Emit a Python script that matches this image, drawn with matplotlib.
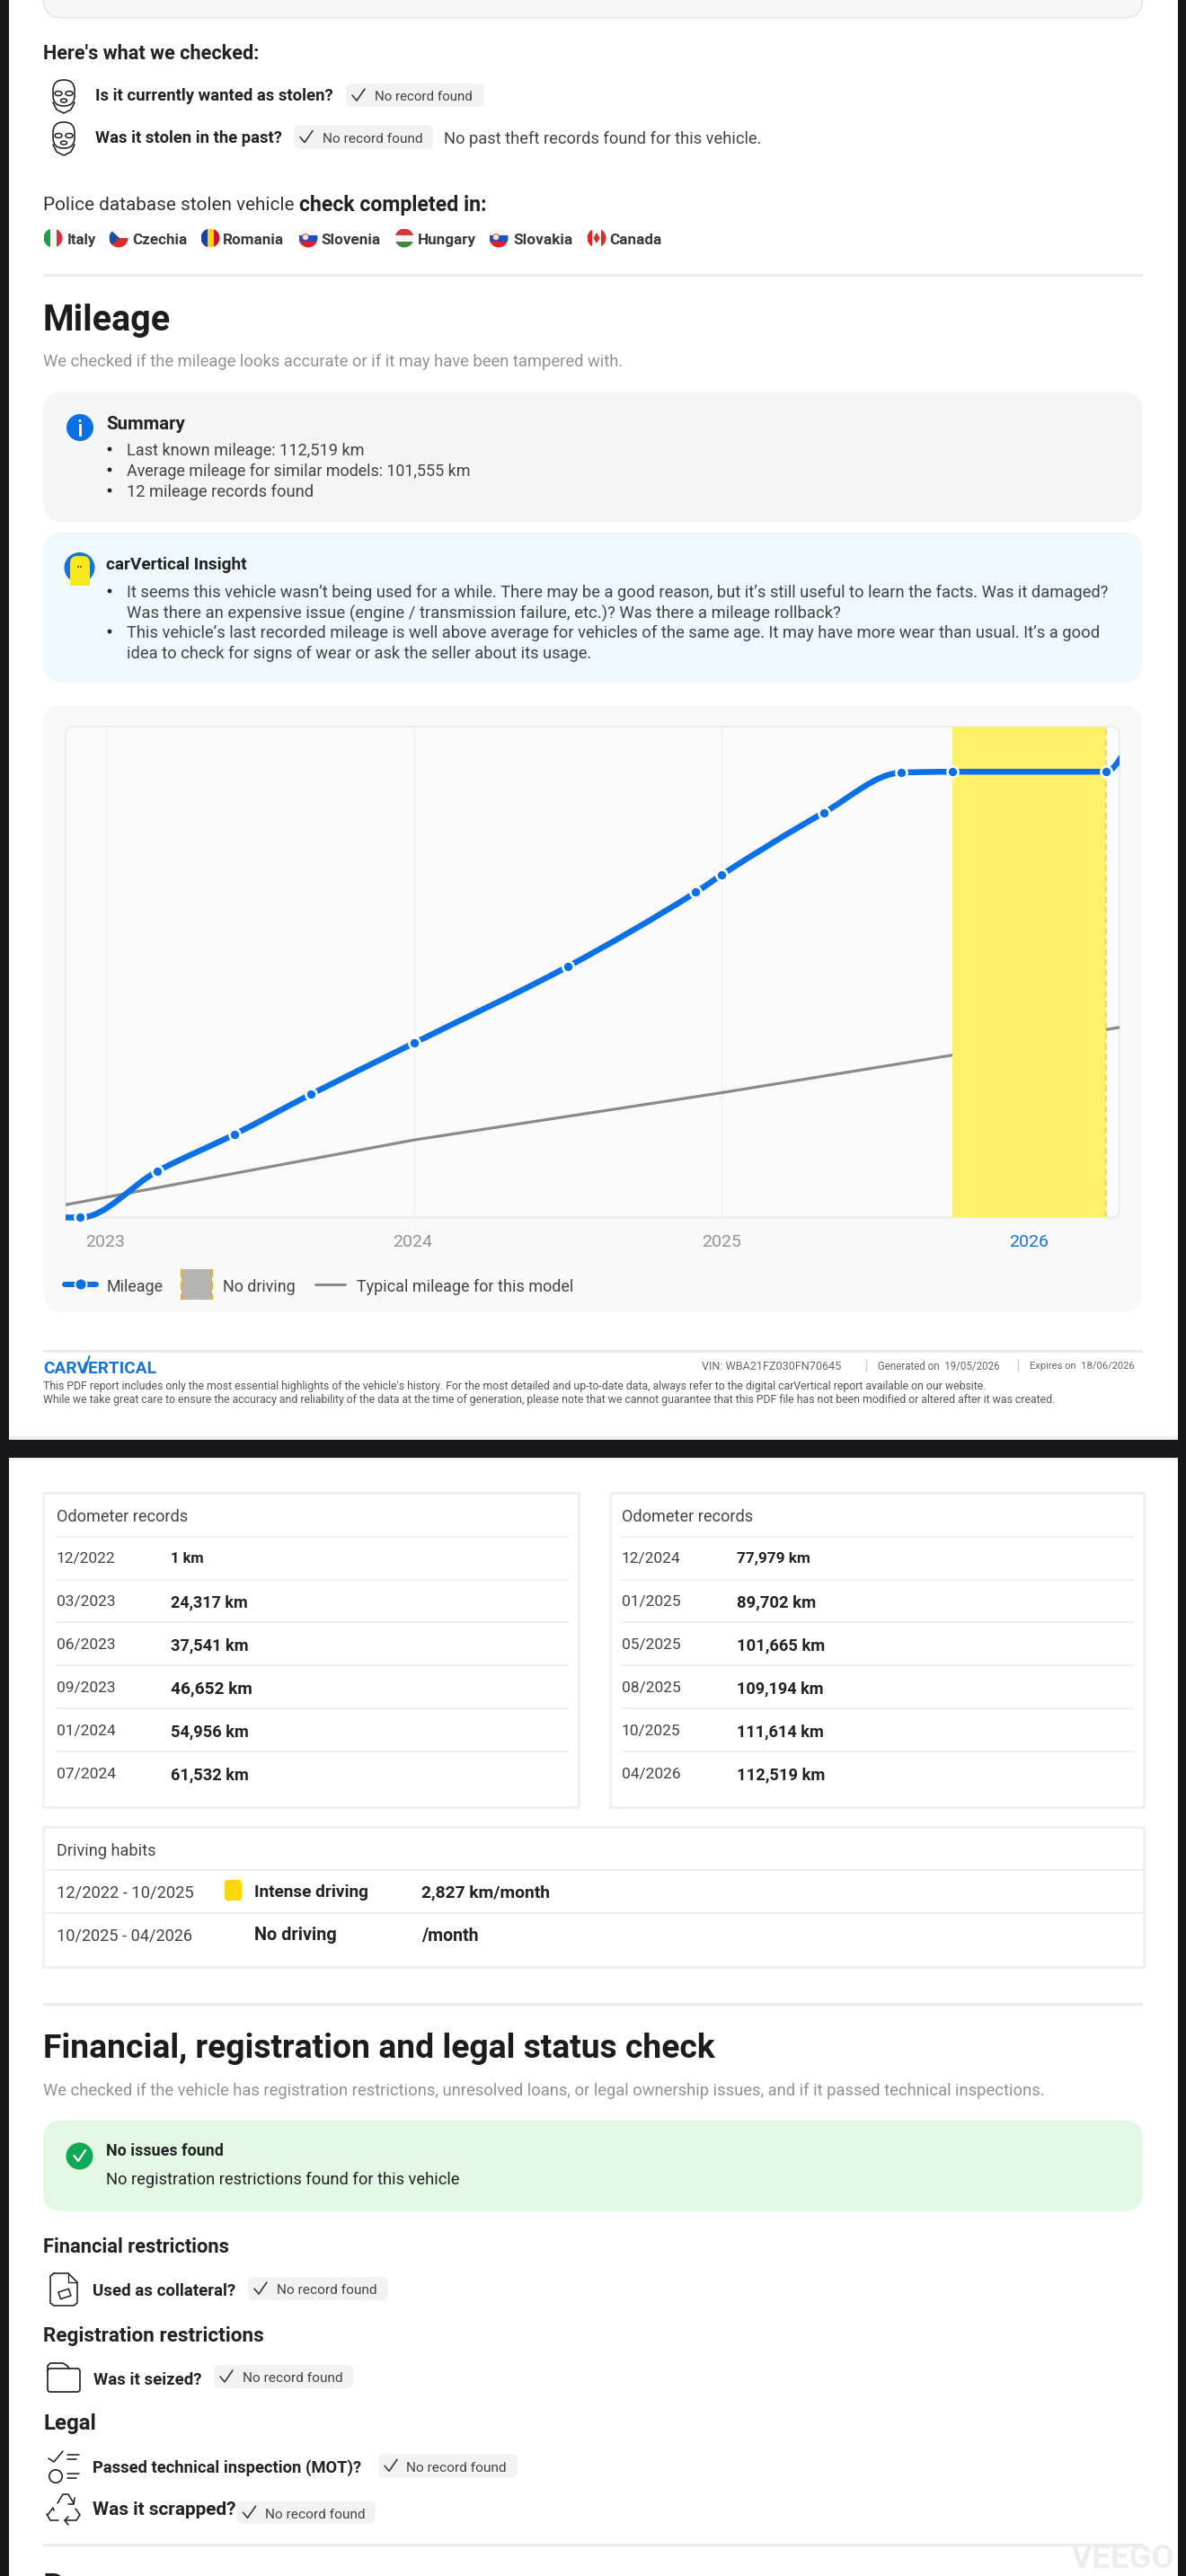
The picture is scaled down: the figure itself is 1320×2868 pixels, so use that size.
import matplotlib
matplotlib.use("Agg")
import matplotlib.pyplot as plt
from matplotlib.patches import Circle, Ellipse, FancyBboxPatch, PathPatch, Polygon, Rectangle
from matplotlib.path import Path

plt.rcParams["font.family"] = ["Roboto", "Liberation Sans", "DejaVu Sans"]

record_dates = ["2022-12", "2023-03", "2023-06", "2023-09", "2024-01", "2024-07",
                "2024-12", "2025-01", "2025-05", "2025-08", "2025-10", "2026-04"]
record_km = [1, 11690, 20950, 31140, 43990, 63320, 82080, 86470, 102220, 112290, 112519, 112519]
lead_in = ("2022-11", 0)
tail_out = ("2026-05", 120000)

typical_dates = ["2022-11", "2024-01", "2025-01", "2025-10", "2026-05"]
typical_km = [2700, 19560, 31490, 40980, 48500]

no_driving = ("2025-10", "2026-04")
year_ticks = [2023, 2024, 2025, 2026]

odometer_left = [("12/2022", "1 km"), ("03/2023", "24,317 km"), ("06/2023", "37,541 km"),
                 ("09/2023", "46,652 km"), ("01/2024", "54,956 km"), ("07/2024", "61,532 km")]
odometer_right = [("12/2024", "77,979 km"), ("01/2025", "89,702 km"), ("05/2025", "101,665 km"),
                  ("08/2025", "109,194 km"), ("10/2025", "111,614 km"), ("04/2026", "112,519 km")]

DARK = "#222222"
TEXT = "#444444"
GREY = "#929292"
BLUE = "#0a70e6"

fig = plt.figure(figsize=(13.2, 28.68), dpi=100, facecolor="white")
page = fig.add_axes([0, 0, 1, 1])
page.set_xlim(0, 1320)
page.set_ylim(2868, 0)
page.axis("off")
renderer = fig.canvas.get_renderer()


def label(x, y, s, right=None, size=18, color=TEXT, weight="normal", ha="left", z=6):
    t = page.text(x, y, s, fontsize=size * 0.72, color=color, fontweight=weight,
                  ha=ha, va="center_baseline", zorder=z)
    if right is not None:
        w = t.get_window_extent(renderer).width
        t.set_fontsize(size * 0.72 * (right - x) / w)
    return t


def box(x0, y0, x1, y1, r=0, fc="none", ec="none", lw=0, z=1):
    style = f"round,pad=0,rounding_size={r}" if r else "square,pad=0"
    p = FancyBboxPatch((x0, y0), x1 - x0, y1 - y0, boxstyle=style, fc=fc, ec=ec,
                       lw=lw * 0.72, zorder=z)
    page.add_patch(p)
    return p


def stroke(xs, ys, color=DARK, lw=1.5, z=6):
    page.plot(xs, ys, color=color, lw=lw * 0.72, zorder=z, solid_capstyle="round",
              solid_joinstyle="round")


def sep(y):
    page.add_patch(Rectangle((48, y - 1.5), 1224, 3, fc="#e9e9e9", ec="none", zorder=2))


def pill(x0, x1, y0, y1, text_x, text_right, text_y=None):
    box(x0, y0, x1, y1, r=7, fc="#f2f2f2")
    mid = (y0 + y1) / 2
    ty = text_y if text_y else mid + 1
    cx = x0 + 13
    stroke([cx - 6, cx - 1, cx + 8], [mid, mid + 6, mid - 7], color="#333333", lw=1.6)
    label(text_x, ty, "No record found", right=text_right, size=15)


def mask(cx, cy):
    box(cx - 12, cy - 18, cx + 12, cy + 11, r=11.5, ec=DARK, lw=1.6, z=5)
    for dx in (-6, 6):
        page.add_patch(Ellipse((cx + dx, cy - 3), 8, 5, fc="none", ec=DARK, lw=1.1, zorder=6))
    page.add_patch(Ellipse((cx, cy + 5), 7, 4, fc="none", ec=DARK, lw=1.1, zorder=6))
    stroke([cx - 12, cx - 8, cx, cx + 8, cx + 12], [cy + 7, cy + 15, cy + 19, cy + 15, cy + 7], lw=1.6)


def flag(cx, cy, colors, vertical=True, r=10.5):
    clip = Circle((cx, cy), r, transform=page.transData)
    n = len(colors)
    for i, c in enumerate(colors):
        if vertical:
            rect = Rectangle((cx - r + 2 * r * i / n, cy - r), 2 * r / n, 2 * r, fc=c, ec="none", zorder=5)
        else:
            rect = Rectangle((cx - r, cy - r + 2 * r * i / n), 2 * r, 2 * r / n, fc=c, ec="none", zorder=5)
        page.add_patch(rect)
        rect.set_clip_path(clip)
    return clip


# dark frame around the two captured pages
page.add_patch(Rectangle((0, 0), 9.5, 2868, fc="#18181a", ec="none", zorder=9))
page.add_patch(Rectangle((1310.5, 0), 10, 2868, fc="#18181a", ec="none", zorder=9))
page.add_patch(Rectangle((0, 1603), 1320, 20, fc="#18181a", ec="none", zorder=9))
page.add_patch(Rectangle((0, 1599), 1320, 4, fc="#f0f0f0", ec="none", zorder=2))
page.add_patch(Rectangle((0, 1623), 1320, 3, fc="#f0f0f0", ec="none", zorder=2))

# --- top of page one ---
box(48, -40, 1272, 20, r=22, fc="#f6f6f6", ec="#e6e6e6", lw=1.5)
label(48, 58, "Here's what we checked:", right=289, color=DARK, weight="bold")
mask(71, 107)
mask(71, 154)
label(106, 105, "Is it currently wanted as stolen?", right=371, color=DARK, weight="bold")
pill(385, 539, 93, 119, 417, 527)
label(106, 152, "Was it stolen in the past?", right=314, color=DARK, weight="bold")
pill(327, 482, 139, 166, 359, 470)
label(494, 153, "No past theft records found for this vehicle.", right=848)
label(48, 226, "Police database stolen vehicle", right=328, color="#333333")
label(333, 226, "check completed in:", right=542, color=DARK, weight="bold")

flag_row = [("Italy", 59, 75, 107, ["#1f9d4d", "#f4f4f4", "#d9303e"], True),
            ("Czechia", 132, 147, 208, ["#f4f4f4", "#dd2b2b"], False),
            ("Romania", 234, 248, 316, ["#1b3f9c", "#fcd116", "#ce1126"], True),
            ("Slovenia", 343, 357, 423, ["#f4f4f4", "#1c4fc4", "#e0202c"], False),
            ("Hungary", 450, 465, 530, ["#d5383c", "#f6f6f6", "#3f8a3c"], False),
            ("Slovakia", 555, 571, 637, ["#f4f4f4", "#1c4fc4", "#e0202c"], False),
            ("Canada", 664, 678, 736, ["#dc2a2a", "#f8f8f8", "#f8f8f8", "#dc2a2a"], True)]
for name, fx, tx, tr, cols, vert in flag_row:
    clip = flag(fx, 265, cols, vert)
    label(tx, 266, name, right=tr, color="#3a3a3a", weight="bold")
    if name == "Czechia":
        tri = Polygon([(fx - 10.5, 254.5), (fx + 1, 265), (fx - 10.5, 275.5)], fc="#1d4d9c", ec="none", zorder=5.5)
        page.add_patch(tri)
        tri.set_clip_path(clip)
    if name in ("Slovenia", "Slovakia"):
        page.add_patch(Circle((fx - 3, 264), 3.5, fc="#e8e8f8", ec="#d03030", lw=0.6, zorder=5.5))
    if name == "Canada":
        page.add_patch(Polygon([(fx, 259), (fx + 3.5, 265), (fx, 271), (fx - 3.5, 265)], fc="#dc2a2a", ec="none", zorder=5.5))
sep(306)

label(48, 353, "Mileage", right=190, color="#1c1c1c", weight="bold", size=40)
label(48, 401, "We checked if the mileage looks accurate or if it may have been tampered with.", right=694, color=GREY)

box(48, 436, 1272, 581, r=22, fc="#f5f5f5")
page.add_patch(Circle((89, 476), 15, fc=BLUE, ec="none", zorder=4))
page.plot([89, 89], [473, 484], color="white", lw=2, zorder=5)
page.add_patch(Circle((89, 468.5), 1.5, fc="white", ec="none", zorder=5))
label(118, 470, "Summary", right=206, color=DARK, weight="bold")
summary = [(500, "Last known mileage: 112,519 km", 406),
           (523, "Average mileage for similar models: 101,555 km", 525),
           (546, "12 mileage records found", 349)]
for y, s, r in summary:
    page.add_patch(Circle((122, y), 2.4, fc="#222222", ec="none", zorder=5))
    label(141, y, s, right=r)

box(48, 593, 1272, 760, r=22, fc="#eef8fe")
page.add_patch(Circle((88.5, 632), 17, fc="#1a73d8", ec="none", zorder=4))
box(78, 619, 100, 651, r=8, fc="#f8e71c", z=5)
page.add_patch(Rectangle((78, 640), 22, 12, fc="#f8e71c", ec="none", zorder=5))
page.add_patch(Circle((87, 631), 0.9, fc="#333333", ec="none", zorder=6))
page.add_patch(Circle((90, 631), 0.9, fc="#333333", ec="none", zorder=6))
label(118, 627, "carVertical Insight", right=276, color=DARK, weight="bold")
insight = [(658, "It seems this vehicle wasn\u2019t being used for a while. There may be a good reason, but it\u2019s still useful to learn the facts. Was it damaged?", 1241, True),
           (681, "Was there an expensive issue (engine / transmission failure, etc.)? Was there a mileage rollback?", 939, False),
           (703, "This vehicle\u2019s last recorded mileage is well above average for vehicles of the same age. It may have more wear than usual. It\u2019s a good", 1230, True),
           (726, "idea to check for signs of wear or ask the seller about its usage.", 660, False)]
for y, s, r, bullet in insight:
    if bullet:
        page.add_patch(Circle((122, y), 2.4, fc="#222222", ec="none", zorder=5))
    label(141, y, s, right=r)

# --- chart card ---
box(48, 785, 1271, 1460, r=22, fc="#f8f8f8")
box(73, 809, 1246, 1355.5, r=9, fc="#fafafa", ec="#ececec", lw=2, z=2)

PX_LEFT, PX_RIGHT, PX_TOP, PX_BOTTOM = 73, 1246, 809, 1355.5
chart = fig.add_axes([PX_LEFT / 1320, 1 - PX_BOTTOM / 2868,
                      (PX_RIGHT - PX_LEFT) / 1320, (PX_BOTTOM - PX_TOP) / 2868])
chart.patch.set_alpha(0)
for spine in chart.spines.values():
    spine.set_visible(False)


def to_year(stamp):
    y, m = stamp.split("-")
    return int(y) + (int(m) - 1) / 12


def monotone_path(xs, ys):
    # same idea as d3 curveMonotoneX, gives the rounded knees of the original line
    n = len(xs)
    h = [xs[i + 1] - xs[i] for i in range(n - 1)]
    s = [(ys[i + 1] - ys[i]) / h[i] for i in range(n - 1)]
    t = [0.0] * n
    for i in range(1, n - 1):
        if s[i - 1] * s[i] > 0:
            t[i] = 2 * s[i - 1] * s[i] / (s[i - 1] + s[i])
    t[0], t[-1] = s[0], s[-1]
    verts = [(xs[0], ys[0])]
    codes = [Path.MOVETO]
    for i in range(n - 1):
        verts += [(xs[i] + h[i] / 3, ys[i] + t[i] * h[i] / 3),
                  (xs[i + 1] - h[i] / 3, ys[i + 1] - t[i + 1] * h[i] / 3),
                  (xs[i + 1], ys[i + 1])]
        codes += [Path.CURVE4] * 3
    return Path(verts, codes)


x0 = 2023 + (PX_LEFT - 118) / 342.5
x1 = 2023 + (PX_RIGHT - 118) / 342.5
chart.set_xlim(x0, x1)
chart.set_ylim(0, 123900)
chart.set_xticks([])
chart.set_yticks([])

for yr in year_ticks[:-1]:
    chart.axvline(yr, color="#eeeeee", lw=1, zorder=1)

chart.plot([to_year(d) for d in typical_dates], typical_km, color="#8a8a8a", lw=2.3, zorder=2)

span0, span1 = to_year(no_driving[0]), to_year(no_driving[1])
chart.axvspan(span0, span1, fc="#fff06a", ec="none", zorder=3)
chart.axvline(span1, color="#f6c56e", lw=1.2, ls=(0, (4, 3)), zorder=3.5)

line_x = [to_year(lead_in[0])] + [to_year(d) for d in record_dates] + [to_year(tail_out[0])]
line_y = [lead_in[1]] + record_km + [tail_out[1]]
curve = PathPatch(monotone_path(line_x, line_y), fc="none", ec=BLUE, lw=4.7, zorder=4,
                  transform=chart.transData, capstyle="butt")
chart.add_patch(curve)
curve.set_clip_path(Rectangle((x0, -4000), x1 - x0, 132000, transform=chart.transData))
dots, = chart.plot([to_year(d) for d in record_dates], record_km, ls="none", marker="o", ms=8.7,
                   mfc=BLUE, mec="white", mew=1.9, zorder=5)
dots.set_clip_on(False)

tick_px = [117, 459, 803, 1145]
for yr, px in zip(year_ticks, tick_px):
    label(px, 1381, str(yr), size=19.5, color="#1a73d8" if yr == 2026 else GREY, ha="center")

# legend
stroke([72, 84], [1430, 1430], color=BLUE, lw=6)
stroke([96, 107], [1430, 1430], color=BLUE, lw=6)
page.add_patch(Circle((90, 1430), 6.5, fc=BLUE, ec="white", lw=1.3, zorder=7))
label(119, 1431, "Mileage", right=182)
page.add_patch(Rectangle((202, 1413), 34, 34, fc="#b4b4b0", ec="none", zorder=5))
for side in (202, 236):
    page.plot([side, side], [1413, 1447], color="#f0ad1e", lw=1.6, ls=(0, (4, 2.2)), zorder=6)
label(248, 1431, "No driving", right=329)
stroke([351, 384], [1430, 1430], color="#8c8c8c", lw=3)
label(397, 1431, "Typical mileage for this model", right=639)

# footer
sep(1504)
label(48, 1522, "CARVERTICAL", right=174, color="#1a73d8", weight="bold")
stroke([94, 99.5], [1528, 1510], color="#1a73d8", lw=2)
label(781, 1520, "VIN: WBA21FZ030FN70645", right=937, color="#666666")
page.plot([964, 964], [1514, 1526], color="#cccccc", lw=1, zorder=5)
label(977, 1520, "Generated on  19/05/2026", right=1113, color="#666666")
page.plot([1133, 1133], [1514, 1526], color="#cccccc", lw=1, zorder=5)
label(1146, 1520, "Expires on  18/06/2026", right=1264, color="#666666")
label(48, 1542, "This PDF report includes only the most essential highlights of the vehicle's history. For the most detailed and up-to-date data, always refer to the digital carVertical report available on our website.", right=1106, color="#555555")
label(48, 1557, "While we take great care to ensure the accuracy and reliability of the data at the time of generation, please note that we cannot guarantee that this PDF file has not been modified or altered after it was created.", right=1183, color="#555555")

# --- page two: odometer tables ---
row_lines = [1710.5, 1758.5, 1806, 1854, 1902, 1950]
row_text = [1734, 1782, 1830, 1878, 1926, 1974]
km_width = {"1 km": 37, "24,317 km": 86, "37,541 km": 87, "46,652 km": 91, "54,956 km": 87,
            "61,532 km": 87, "77,979 km": 82, "89,702 km": 88, "101,665 km": 98,
            "109,194 km": 97, "111,614 km": 98, "112,519 km": 98}
for bx0, bx1, tx, vx, rows in [(48, 644, 63, 190, odometer_left), (678.5, 1273, 692, 820, odometer_right)]:
    box(bx0, 1661.5, bx1, 2011.5, ec="#f0f0f0", lw=3)
    label(tx, 1687, "Odometer records", right=tx + 146, size=16)
    for ly in row_lines:
        page.plot([tx, tx + 569], [ly, ly], color="#f1f1f1", lw=1.6, zorder=2)
    for ry, (d, km) in zip(row_text, rows):
        label(tx, ry, d, right=tx + 66)
        label(vx, ry, km, right=vx + km_width[km], color=DARK, weight="bold")

box(48, 2034, 1273, 2190, ec="#f0f0f0", lw=3)
label(63, 2059, "Driving habits", right=174, size=16)
for ly in (2082, 2130):
    page.plot([50, 1271], [ly, ly], color="#f1f1f1", lw=1.6, zorder=2)
label(63, 2106, "12/2022 - 10/2025", right=216)
box(250, 2093, 269, 2116, r=3, fc="#ffd60a")
label(283, 2105, "Intense driving", right=410, color=DARK, weight="bold")
label(469, 2105, "2,827 km/month", right=613, color=DARK, weight="bold")
label(63, 2154, "10/2025 - 04/2026", right=214)
label(283, 2153, "No driving", right=375, color=DARK, weight="bold")
label(469, 2153, "/month", right=533, color=DARK, weight="bold")

# --- financial section ---
sep(2231)
label(48, 2277, "Financial, registration and legal status check", right=796, color="#1c1c1c", weight="bold", size=36)
label(48, 2326, "We checked if the vehicle has registration restrictions, unresolved loans, or legal ownership issues, and if it passed technical inspections.", right=1167, color=GREY)

box(48, 2360.5, 1272, 2462, r=22, fc="#e2f8e5")
page.add_patch(Circle((88.5, 2400.5), 15, fc="#0fa958", ec="none", zorder=4))
stroke([82.5, 87, 95], [2400, 2406, 2394], color="white", lw=2.2)
label(118, 2393.5, "No issues found", right=249, color=DARK, weight="bold")
label(118, 2425, "No registration restrictions found for this vehicle", right=511, color=DARK)

label(48, 2500, "Financial restrictions", right=255, color=DARK, weight="bold", size=22)
# document icon
stroke([60, 76, 86, 86, 82, 60, 56, 56, 60], [2531, 2531, 2541, 2564, 2567, 2567, 2564, 2534, 2531], lw=1.6)
stroke([76, 76, 86], [2531, 2541, 2541], lw=1.3)
page.add_patch(Rectangle((65, 2552), 12, 8, angle=-18, fc="none", ec=DARK, lw=1.1, zorder=6))
label(103, 2549, "Used as collateral?", right=263, color=DARK, weight="bold")
pill(276, 432, 2535, 2561, 308, 419)

label(48, 2598, "Registration restrictions", right=293, color=DARK, weight="bold", size=22)
# folder icon
box(53, 2637, 89, 2663, r=3, ec=DARK, lw=1.7, z=5)
stroke([53, 53, 56, 70, 75, 77], [2640, 2634, 2631, 2631, 2634, 2637], lw=1.7)
label(104, 2648, "Was it seized?", right=225, color=DARK, weight="bold")
pill(238, 393, 2633, 2659, 270, 381)

label(48, 2696.5, "Legal", right=107, color=DARK, weight="bold", size=22)
# checklist icon
stroke([54, 60, 70], [2737, 2741, 2729], lw=1.6)
stroke([75, 88], [2733, 2733], lw=1.6)
stroke([75, 85], [2738, 2738], lw=1.6)
page.add_patch(Circle((62, 2757), 7.2, fc="none", ec=DARK, lw=1.2, zorder=6))
stroke([75, 88], [2754, 2754], lw=1.6)
stroke([75, 85], [2759, 2759], lw=1.6)
label(103, 2746, "Passed technical inspection (MOT)?", right=402, color=DARK, weight="bold")
pill(421, 576, 2732, 2758.5, 452, 563)

# recycle icon
stroke([64, 70, 76, 82], [2787, 2777, 2777, 2787], lw=1.6)
stroke([76, 82, 83], [2788, 2788, 2781], lw=1.6)
stroke([52, 56, 65], [2799, 2806, 2806], lw=1.6)
stroke([53, 59, 60], [2800, 2792, 2795], lw=1.6)
stroke([72, 85, 89, 84], [2806, 2806, 2800, 2793], lw=1.6)
stroke([76, 72, 76], [2802, 2806, 2811], lw=1.6)
label(103, 2793, "Was it scrapped?", right=263, color=DARK, weight="bold")
pill(263.5, 417.5, 2784.5, 2810, 295, 406)

sep(2833)
label(48, 2879, "D", size=40, color="#1c1c1c", weight="bold")
label(1192, 2845, "VEEGO", right=1308, color="#ededed", weight="bold", z=8)

fig.savefig("out.png", dpi=100, facecolor="white")
